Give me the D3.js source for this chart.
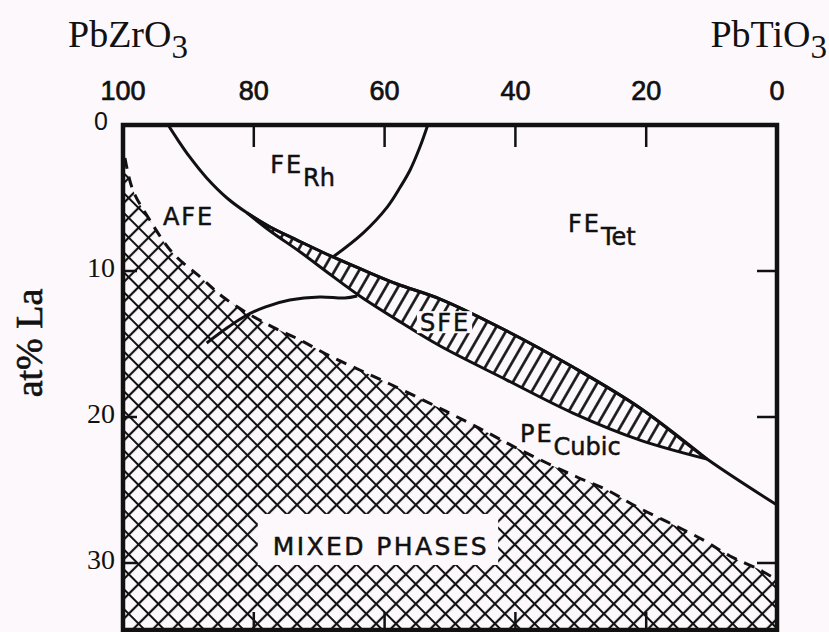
<!DOCTYPE html>
<html>
<head>
<meta charset="utf-8">
<script src="https://cdn.jsdelivr.net/npm/d3@7"></script>
<style>
  body { margin: 0; background: #fcf8fc; }
  svg { display: block; }
</style>
</head>
<body>
<svg id="chart"></svg>
<script>
// x = mol% PbZrO3 (100 on the left, 0 on the right), y = at% La (0 at the top)
var topTickLabels = [100, 80, 60, 40, 20, 0];
var leftTickLabels = [0, 10, 20, 30];
var innerXTicks = [80, 60, 40, 20];
var innerYTicks = [10, 20, 30];

// AFE/FE line, carries on as upper edge of the SFE band and then as FE/PE line
var feBoundary = [
    [93.1, 0.0], [91.6, 1.03], [89.8, 2.19], [87.2, 3.63], [84.1, 5.0],
    [81.0, 6.03], [77.5, 6.99], [73.4, 7.88], [67.9, 9.04], [63.3, 9.93],
    [58.1, 10.89], [51.5, 11.92], [41.3, 14.11], [31.2, 16.58], [20.95, 19.38],
    [10.7, 22.88], [0.0, 26.03]
];
// lower edge of the SFE band
var sfeLower = [
    [81.0, 6.03], [77.5, 7.26], [72.9, 8.70], [68.4, 10.21], [63.8, 11.71],
    [57.6, 13.49], [51.5, 15.14], [41.3, 17.47], [31.2, 19.73], [20.95, 21.58],
    [10.7, 22.88]
];
// FE rhombohedral / FE tetragonal line
var feRhBoundary = [
    [53.4, 0.0], [54.6, 1.51], [56.1, 3.08], [57.6, 4.25], [59.6, 5.62],
    [63.3, 7.40], [67.9, 9.04]
];
// AFE / PE cubic line
var afePeBoundary = [
    [87.2, 14.93], [83.9, 13.84], [81.3, 13.08], [78.3, 12.47], [74.5, 11.99],
    [69.9, 11.78], [66.1, 11.85], [64.2, 11.71]
];
// dashed limit of the mixed phase region
var mixedBoundary = [
    [99.7, 2.26], [98.5, 4.45], [95.9, 6.51], [92.4, 8.77], [88.2, 10.41],
    [84.7, 11.78], [81.0, 12.88], [77.1, 13.84], [72.9, 14.73], [68.4, 15.82],
    [63.8, 16.78], [59.2, 17.74], [54.1, 18.84], [49.5, 19.86], [45.0, 20.89],
    [40.4, 21.99], [35.2, 23.15], [30.6, 24.11], [26.0, 25.0], [21.4, 26.16],
    [16.4, 27.26], [11.3, 28.42], [7.2, 29.52], [2.6, 30.48], [0.0, 31.16]
];

var phaseNames = ["FE", "AFE", "FE", "SFE", "PE", "MIXED PHASES"];
var phaseSubs = ["Rh", "", "Tet", "", "Cubic", ""];
var phaseX = [77.5, 93.9, 31.96, 54.6, 39.3, 77.1];
var phaseY = [3.29, 6.85, 7.33, 14.12, 21.71, 29.45];

var svgWidth = 829, svgHeight = 632;
var plotLeft = 123, plotRight = 777, plotTop = 125, plotBottom = 630;
var yMax = (plotBottom - plotTop) / 14.6;
var ink = "#111";
var paper = "#fcf8fc";

var svg = d3.select("#chart")
    .attr("width", svgWidth)
    .attr("height", svgHeight);

svg.append("rect")
    .attr("width", svgWidth)
    .attr("height", svgHeight)
    .attr("fill", paper);

var x = d3.scaleLinear().domain([100, 0]).range([plotLeft, plotRight]);
var y = d3.scaleLinear().domain([0, yMax]).range([plotTop, plotBottom]);

var line = d3.line()
    .x(d => x(d[0]))
    .y(d => y(d[1]))
    .curve(d3.curveCatmullRom.alpha(0.5));

///////////////////////////////////////////////////////
// hatch patterns
var defs = svg.append("defs");

var cross = defs.append("pattern")
    .attr("id", "cross")
    .attr("patternUnits", "userSpaceOnUse")
    .attr("width", 14)
    .attr("height", 14)
    .attr("patternTransform", "rotate(45)");
cross.append("path")
    .attr("d", "M0,7H14M7,0V14")
    .attr("stroke", ink)
    .attr("stroke-width", 2.2);

var diag = defs.append("pattern")
    .attr("id", "diag")
    .attr("patternUnits", "userSpaceOnUse")
    .attr("width", 10.5)
    .attr("height", 10.5)
    .attr("patternTransform", "rotate(30)");
diag.append("path")
    .attr("d", "M5.25,0V10.5")
    .attr("stroke", ink)
    .attr("stroke-width", 2.6);

defs.append("clipPath")
    .attr("id", "frame")
    .append("rect")
    .attr("x", x(100))
    .attr("y", y(0))
    .attr("width", x(0) - x(100))
    .attr("height", y(yMax) - y(0));

var g = svg.append("g").attr("clip-path", "url(#frame)");

// mixed phases region, cross hatched below the dashed line
g.append("path")
    .attr("d", line(mixedBoundary) +
        "L" + x(0) + "," + y(yMax) +
        "L" + x(100) + "," + y(yMax) + "Z")
    .attr("fill", "url(#cross)");

// SFE band
var sfeUpper = feBoundary.filter(d => d[0] <= 81.0 && d[0] >= 10.7);
g.append("path")
    .attr("d", line(sfeUpper) + line(sfeLower.slice().reverse()).replace(/^M/, "L") + "Z")
    .attr("fill", "url(#diag)")
    .attr("stroke", ink)
    .attr("stroke-width", 3);

// phase lines
[feBoundary, feRhBoundary, afePeBoundary].forEach(function (pts) {
    g.append("path")
        .attr("d", line(pts))
        .attr("fill", "none")
        .attr("stroke", ink)
        .attr("stroke-width", 3);
});

g.append("path")
    .attr("d", line(mixedBoundary))
    .attr("fill", "none")
    .attr("stroke", ink)
    .attr("stroke-width", 3)
    .attr("stroke-dasharray", "11,8");

///////////////////////////////////////////////////////
// phase labels
var labels = g.append("g")
    .attr("font-family", "'DejaVu Sans', sans-serif")
    .attr("font-size", 24)
    .attr("fill", ink)
    .attr("stroke", ink)
    .attr("stroke-width", 0.5);

phaseNames.forEach(function (name, i) {
    var t = labels.append("text")
        .attr("x", x(phaseX[i]))
        .attr("y", y(phaseY[i]));
    t.append("tspan")
        .attr("letter-spacing", name == "MIXED PHASES" ? 2.4 : 2)
        .attr("font-size", name == "MIXED PHASES" ? 25 : 24)
        .text(name);
    if (phaseSubs[i]) {
        t.append("tspan")
            .attr("dy", 13)
            .text(phaseSubs[i]);
    }
    // clear the hatching round labels that sit inside a hatched area
    if (name == "SFE" || name == "MIXED PHASES") {
        var b = t.node().getBBox();
        var pad = name == "SFE" ? [3, 2, 5, 0] : [15, 18, 24, 22];
        labels.insert("rect", function () { return t.node(); })
            .attr("x", b.x - pad[0])
            .attr("y", b.y - pad[1] + (name == "SFE" ? 4 : 0))
            .attr("width", b.width + pad[2])
            .attr("height", b.height + pad[3] - (name == "SFE" ? 6 : 0))
            .attr("fill", paper)
            .attr("stroke", "none");
    }
});

///////////////////////////////////////////////////////
// frame and ticks
var axes = svg.append("g")
    .attr("stroke", ink)
    .attr("fill", "none");

innerXTicks.forEach(function (v) {
    axes.append("line")
        .attr("x1", x(v)).attr("x2", x(v))
        .attr("y1", y(0)).attr("y2", y(0) + 22)
        .attr("stroke-width", 2.5);
    axes.append("line")
        .attr("x1", x(v)).attr("x2", x(v))
        .attr("y1", y(yMax)).attr("y2", y(yMax) - 18)
        .attr("stroke-width", 2.5);
});

innerYTicks.forEach(function (v) {
    axes.append("line")
        .attr("x1", x(100)).attr("x2", x(100) + 14)
        .attr("y1", y(v)).attr("y2", y(v))
        .attr("stroke-width", 2.5);
    axes.append("line")
        .attr("x1", x(0)).attr("x2", x(0) - 20)
        .attr("y1", y(v)).attr("y2", y(v))
        .attr("stroke-width", 2.5);
});

axes.append("rect")
    .attr("x", x(100))
    .attr("y", y(0))
    .attr("width", x(0) - x(100))
    .attr("height", y(yMax) - y(0))
    .attr("stroke-width", 4.5);

// top tick labels
svg.append("g")
    .selectAll("text")
    .data(topTickLabels)
    .enter()
    .append("text")
    .attr("x", d => x(d))
    .attr("y", 100)
    .attr("text-anchor", "middle")
    .attr("font-family", "'Liberation Sans', Arial, sans-serif")
    .attr("font-size", 27)
    .attr("fill", ink)
    .attr("stroke", ink)
    .attr("stroke-width", 0.7)
    .text(d => d);

// left tick labels
svg.append("g")
    .selectAll("text")
    .data(leftTickLabels)
    .enter()
    .append("text")
    .attr("x", d => d == 0 ? 108 : 115)
    .attr("y", d => y(d) - 4)
    .attr("dominant-baseline", "central")
    .attr("text-anchor", "end")
    .attr("font-family", d => d == 0 ? "'Liberation Sans', Arial, sans-serif" : "'Liberation Serif', 'Times New Roman', serif")
    .attr("font-size", d => d == 0 ? 25 : 28)
    .attr("fill", ink)
    .text(d => d);

// end members and axis title
var serif = "'Liberation Serif', 'Times New Roman', serif";

var t1 = svg.append("text")
    .attr("x", 68).attr("y", 47)
    .attr("font-family", serif)
    .attr("font-size", 38)
    .attr("fill", ink);
t1.append("tspan").text("PbZrO");
t1.append("tspan").attr("dy", 11).attr("font-size", 33).text("3");

var t2 = svg.append("text")
    .attr("x", 827).attr("y", 47)
    .attr("text-anchor", "end")
    .attr("font-family", serif)
    .attr("font-size", 38)
    .attr("fill", ink);
t2.append("tspan").text("PbTiO");
t2.append("tspan").attr("dy", 11).attr("font-size", 33).text("3");

svg.append("text")
    .attr("transform", "translate(42,343) rotate(-90)")
    .attr("text-anchor", "middle")
    .attr("font-family", serif)
    .attr("font-size", 38)
    .attr("fill", ink)
    .attr("stroke", ink)
    .attr("stroke-width", 0.6)
    .text("at% La");
</script>
</body>
</html>
